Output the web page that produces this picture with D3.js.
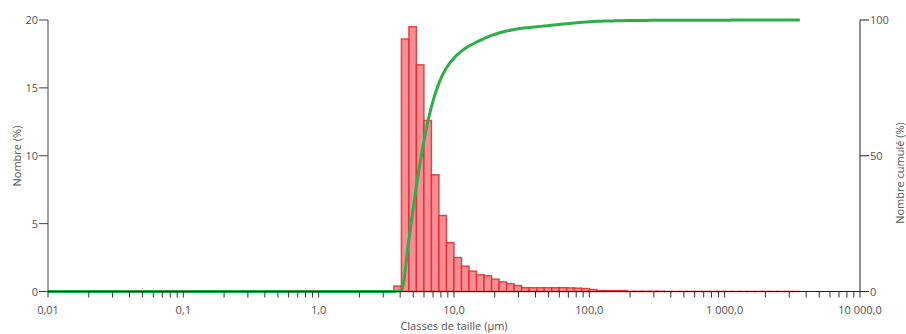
<!DOCTYPE html>
<html><head><meta charset="utf-8">
<script src="https://cdn.jsdelivr.net/npm/d3@7"></script>
<style>body{margin:0;background:#fff}svg text{font-family:"Open Sans","Noto Sans",sans-serif}</style>
</head><body><svg id="c" width="906" height="334"></svg>
<script>
// Size class edges (µm)
const classEdges = [3.594,4.084,4.642,5.275,5.995,6.813,7.743,8.799,10.0,11.36,12.92,14.68,16.68,18.96,21.54,24.48,27.83,31.62,35.94,40.84,46.42,52.75,59.95,68.13,77.43,88.0,100,113.6,129.2,146.8,166.8,189.6,215.4,244.8,278.3,316.2,359.4,408.4,464.2,527.5,599.5,681.3,774.3,879.9,1000,1136,1292,1468,1668,1896,2154,2448,2783,3162,3594];
// Number % per class
const numberPct = [0.4,18.6,19.5,16.7,12.6,8.6,5.6,3.6,2.5,1.87,1.5,1.23,1.16,0.91,0.71,0.57,0.44,0.28,0.28,0.28,0.28,0.28,0.28,0.27,0.25,0.22,0.15,0.07,0.07,0.07,0.07,0.02,0.02,0.02,0.02,0.02,0.005,0.005,0.005,0.005,0.005,0.005,0.005,0.005,0.005,0.005,0.005,0.005,0.005,0.005,0.005,0.005,0.005,0.005];
const xTickValues = [0.01,0.1,1,10,100,1000,10000];
const xTickLabels = ["0,01","0,1","1,0","10,0","100,0","1 000,0","10 000,0"];
const yLeftTicks = [0,5,10,15,20];
const yRightTicks = [0,50,100];

const svg = d3.select("#c");
const L=48, R=860, T=20, B=291.5;
const x = d3.scaleLog().domain([0.01,10000]).range([L,R]);
const yL = d3.scaleLinear().domain([0,20]).range([B,T]);
const yR = d3.scaleLinear().domain([0,100]).range([B,T]);

// bars
const bars = numberPct.map((v,i)=>({x0:classEdges[i],x1:classEdges[i+1],v}));
svg.append("g").selectAll("rect").data(bars).join("rect")
  .attr("x",d=>x(d.x0)).attr("width",d=>x(d.x1)-x(d.x0))
  .attr("y",d=>yL(d.v)).attr("height",d=>yL(0)-yL(d.v))
  .attr("fill","#f68e93").attr("stroke","#e8232b").attr("stroke-width",1.4).attr("stroke-opacity",0.85);

// cumulative
const total = d3.sum(numberPct);
let acc=0;
const cum=[{s:0.01,c:0},{s:classEdges[0],c:0}];
numberPct.forEach((v,i)=>{acc+=v; cum.push({s:classEdges[i+1],c:acc/total*100});});
svg.append("path").datum(cum)
  .attr("d",d3.line().x(d=>x(d.s)).y(d=>yR(d.c)).curve(d3.curveMonotoneX))
  .attr("fill","none").attr("stroke","#2eae4a").attr("stroke-width",3);

// bottom axis
const minor=[];
for(let e=-2;e<4;e++) for(let m=2;m<10;m++) minor.push(m*Math.pow(10,e));
const gx = svg.append("g");
gx.append("line").attr("x1",L).attr("x2",R).attr("y1",B).attr("y2",B).attr("stroke","#222").attr("stroke-width",1.2);
gx.selectAll("line.t").data(xTickValues.concat(minor)).join("line").attr("class","t")
  .attr("x1",d=>x(d)).attr("x2",d=>x(d)).attr("y1",B).attr("y2",B+6).attr("stroke","#333");
gx.selectAll("text").data(xTickValues).join("text")
  .attr("x",d=>x(d)).attr("y",B+22).attr("text-anchor","middle").attr("font-size",11).attr("fill","#555")
  .text((d,i)=>xTickLabels[i]);
svg.append("text").attr("x",454).attr("y",330).attr("text-anchor","middle").attr("font-size",11).attr("fill","#555").text("Classes de taille (µm)");

// left axis
const gl = svg.append("g");
gl.append("line").attr("x1",L).attr("x2",L).attr("y1",T).attr("y2",B).attr("stroke","#444");
gl.selectAll("line.t").data(yLeftTicks).join("line").attr("class","t")
  .attr("x1",L-9).attr("x2",L).attr("y1",d=>yL(d)).attr("y2",d=>yL(d)).attr("stroke","#444");
gl.selectAll("text").data(yLeftTicks).join("text")
  .attr("x",L-10).attr("y",d=>yL(d)+4).attr("text-anchor","end").attr("font-size",11).attr("fill","#555").text(d=>d);
svg.append("text").attr("transform","translate(21,156) rotate(-90)").attr("text-anchor","middle").attr("font-size",11).attr("fill","#555").text("Nombre (%)");

// right axis
const gr = svg.append("g");
gr.append("line").attr("x1",R).attr("x2",R).attr("y1",T).attr("y2",B).attr("stroke","#222");
gr.selectAll("line.t").data(yRightTicks).join("line").attr("class","t")
  .attr("x1",R).attr("x2",R+9).attr("y1",d=>yR(d)).attr("y2",d=>yR(d)).attr("stroke","#222");
gr.selectAll("text").data(yRightTicks).join("text")
  .attr("x",R+10).attr("y",d=>yR(d)+4).attr("text-anchor","start").attr("font-size",11).attr("fill","#555").text(d=>d);
svg.append("text").attr("transform","translate(904,173) rotate(-90)").attr("text-anchor","middle").attr("font-size",11).attr("fill","#555").text("Nombre cumulé (%)");
</script></body></html>
